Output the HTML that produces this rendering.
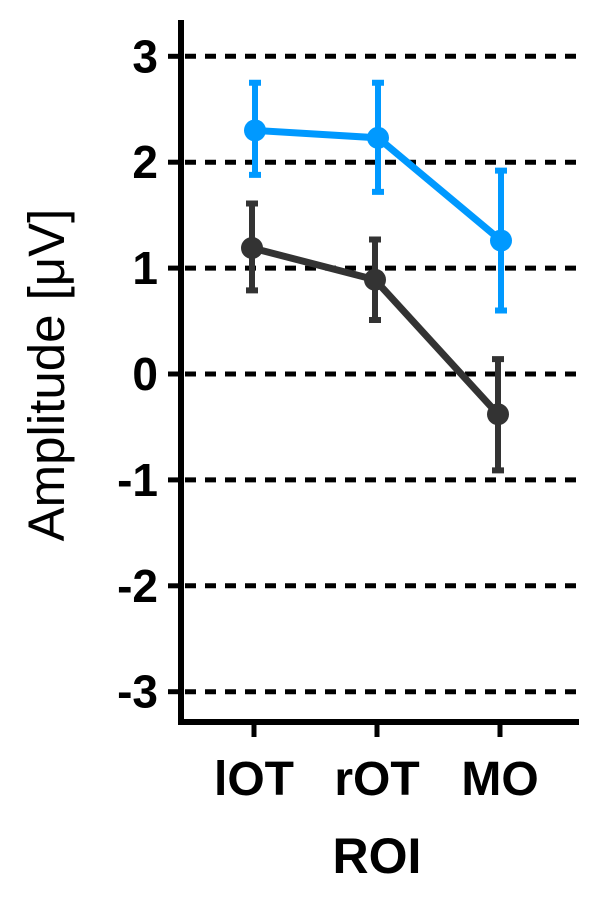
<!DOCTYPE html>
<html><head><meta charset="utf-8"><style>
html,body{margin:0;padding:0;background:#fff;}
svg text{font-family:"Liberation Sans",Arial,sans-serif;}
</style></head><body>
<svg id="chart" width="599" height="900" viewBox="0 0 599 900" xmlns="http://www.w3.org/2000/svg"></svg>
<script>
const categories=["lOT","rOT","MO"];
const blueMean=[2.30,2.23,1.26];
const blueUpper=[2.75,2.75,1.92];
const blueLower=[1.88,1.72,0.60];
const blackMean=[1.19,0.89,-0.38];
const blackUpper=[1.61,1.27,0.14];
const blackLower=[0.79,0.51,-0.91];
const yTicks=[3,2,1,0,-1,-2,-3];

const NS="http://www.w3.org/2000/svg";
const svg=document.getElementById('chart');
const y=v=>374-v*105.9;
const xPos=[255,378,501];
const x=i=>xPos[i];
function mk(t,a,parent){const e=document.createElementNS(NS,t);for(const k in a)e.setAttribute(k,a[k]);(parent||svg).appendChild(e);return e;}

yTicks.forEach(v=>{
  const g=mk('line',{x1:184,x2:580,y1:y(v),y2:y(v),stroke:'#000','stroke-width':5,'stroke-dasharray':'11 9','stroke-dashoffset':-1});
  
  
  const tk=mk('line',{x1:168,x2:181,y1:y(v),y2:y(v),stroke:'#000','stroke-width':5});
  
  
  const t=mk('text',{x:158,y:y(v)+16,'text-anchor':'end','font-size':46,'font-weight':'bold',fill:'#000'});
  t.textContent=v;
  
  
});
const ya=mk('line',{x1:181,x2:181,y1:20,y2:725,stroke:'#000','stroke-width':6});


const xa=mk('line',{x1:178,x2:579,y1:722,y2:722,stroke:'#000','stroke-width':6});


categories.forEach((c,i)=>{
  const tk=mk('line',{x1:x(i)-1,x2:x(i)-1,y1:722,y2:737,stroke:'#000','stroke-width':5});
  
  
  const t=mk('text',{x:x(i)-1,y:795,'text-anchor':'middle','font-size':48,'font-weight':'bold',fill:'#000'});
  t.textContent=c;
  
  
});
const xt=mk('text',{x:377,y:873,'text-anchor':'middle','font-size':50,'font-weight':'bold',fill:'#000'});
xt.textContent='ROI';


const yt=mk('text',{x:0,y:0,transform:'translate(64,375) rotate(-90)','text-anchor':'middle','font-size':51,fill:'#000'});
yt.textContent='Amplitude [μV]';



function series(name,mean,up,lo,color,dx){
  const g=mk('g',{});
  
  
  const pts=mean.map((v,i)=>(x(i)+dx)+','+y(v)).join(' ');
  const pl=mk('polyline',{points:pts,fill:'none',stroke:color,'stroke-width':7},g);
  
  
  mean.forEach((v,i)=>{
    const cx=x(i)+dx;
    const eb=mk('path',{d:`M${cx},${y(up[i])}V${y(lo[i])}M${cx-6},${y(up[i])}H${cx+6}M${cx-6},${y(lo[i])}H${cx+6}`,stroke:color,'stroke-width':6,fill:'none'},g);
    
    
    const c=mk('circle',{cx:cx,cy:y(v),r:11,fill:color},g);
    
    
  });
}
series('blue',blueMean,blueUpper,blueLower,'#0099FF',0);
series('black',blackMean,blackUpper,blackLower,'#333333',-3);
</script>
</body></html>
